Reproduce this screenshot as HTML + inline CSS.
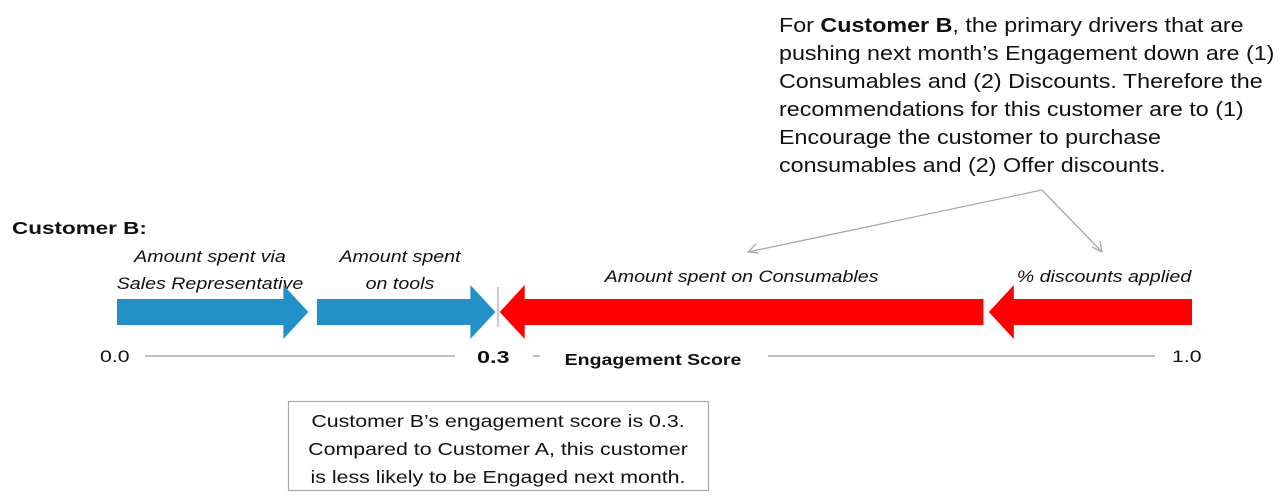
<!DOCTYPE html>
<html><head><meta charset="utf-8"><style>
body{margin:0;background:#fff;width:1287px;height:504px;overflow:hidden}
svg{display:block;font-family:"Liberation Sans",Arial,sans-serif}
</style></head><body>
<svg id="chart" width="1287" height="504" viewBox="0 0 1287 504">
<g font-size="20" fill="#111" transform="translate(779,0) scale(1.165,1) translate(-779,0)">
<text x="779" y="32">For <tspan font-weight="bold">Customer B</tspan>, the primary drivers that are</text>
<text x="779" y="60">pushing next month’s Engagement down are (1)</text>
<text x="779" y="88">Consumables and (2) Discounts. Therefore the</text>
<text x="779" y="116">recommendations for this customer are to (1)</text>
<text x="779" y="144">Encourage the customer to purchase</text>
<text x="779" y="172">consumables and (2) Offer discounts.</text>
</g>
<g stroke="#aaa" stroke-width="1.3" fill="none">
<polyline points="748,252 1042,190 1102,252"/>
<polyline points="756,244 748,252 759,253"/>
<polyline points="1092,247 1102,252 1100,241"/>
</g>
<text x="12" y="234" font-size="18" font-weight="bold" fill="#111" transform="translate(12,0) scale(1.25,1) translate(-12,0)">Customer B:</text>
<g id="labels" font-size="16.5" font-style="italic" fill="#111" text-anchor="middle"></g>
<g id="arrows"></g>
<line x1="498" y1="287" x2="498" y2="327" stroke="#bbb" stroke-width="1.5"/>
<g fill="#111">
<text x="100" y="362" font-size="17" transform="translate(100,0) scale(1.25,1) translate(-100,0)">0.0</text>
<line x1="145" y1="356" x2="455" y2="356" stroke="#999" stroke-width="1.2"/>
<text x="477" y="363" font-size="18" font-weight="bold" transform="translate(477,0) scale(1.3,1) translate(-477,0)">0.3</text>
<line x1="533" y1="356" x2="540" y2="356" stroke="#999" stroke-width="1.2"/>
<text x="653" y="365" font-size="16" font-weight="bold" text-anchor="middle" transform="translate(653,0) scale(1.22,1) translate(-653,0)">Engagement Score</text>
<line x1="768" y1="356" x2="1155" y2="356" stroke="#999" stroke-width="1.2"/>
<text x="1172" y="362" font-size="17" transform="translate(1172,0) scale(1.25,1) translate(-1172,0)">1.0</text>
</g>
<g>
<rect x="288.5" y="401.5" width="420" height="89" fill="#fff" stroke="#aaa" stroke-width="1.2"/>
<g font-size="17.5" fill="#111" text-anchor="middle" transform="translate(498,0) scale(1.22,1) translate(-498,0)">
<text x="498" y="427">Customer B’s engagement score is 0.3.</text>
<text x="498" y="455">Compared to Customer A, this customer</text>
<text x="498" y="483">is less likely to be Engaged next month.</text>
</g></g>
</svg>
<script>
const driverNames=["sales-rep","tools","consumables","discounts"];
const segStart=[0.0,0.186,0.806,1.0];
const segEnd=[0.178,0.352,0.356,0.811];
const labelLines=[["Amount spent via","Sales Representative"],["Amount spent","on tools"],["Amount spent on Consumables"],["% discounts applied"]];
const X0=117,X1=1192;
const x=v=>X0+(X1-X0)*v;
const NS="http://www.w3.org/2000/svg";
const ga=document.getElementById('arrows'),gl=document.getElementById('labels');
for(let i=0;i<segStart.length;i++){
  const a=x(segStart[i]),b=x(segEnd[i]);
  const dir=b>a?1:-1;
  const head=25*dir;
  const base=b-head;
  const pts=[[a,299],[base,299],[base,285],[b,312],[base,339],[base,325],[a,325]];
  const p=document.createElementNS(NS,'polygon');
  p.setAttribute('points',pts.map(q=>q.join(',')).join(' '));
  p.setAttribute('fill',dir>0?'#2490c8':'#ff0000');
  
  
  ga.appendChild(p);
  let cx=(a+b)/2;
  if(i===0) cx=210;
  if(i===1) cx=400;
  if(i===3) cx=1104;
  const lines=labelLines[i];
  lines.forEach((s,j)=>{
    const t=document.createElementNS(NS,'text');
    t.setAttribute('x',cx);
    t.setAttribute('y',lines.length>1?262+27*j:282);
    t.setAttribute('transform','translate('+cx+',0) scale(1.19,1) translate('+(-cx)+',0)');
    t.textContent=s;
    
    
    gl.appendChild(t);
  });
}
</script>
</body></html>
